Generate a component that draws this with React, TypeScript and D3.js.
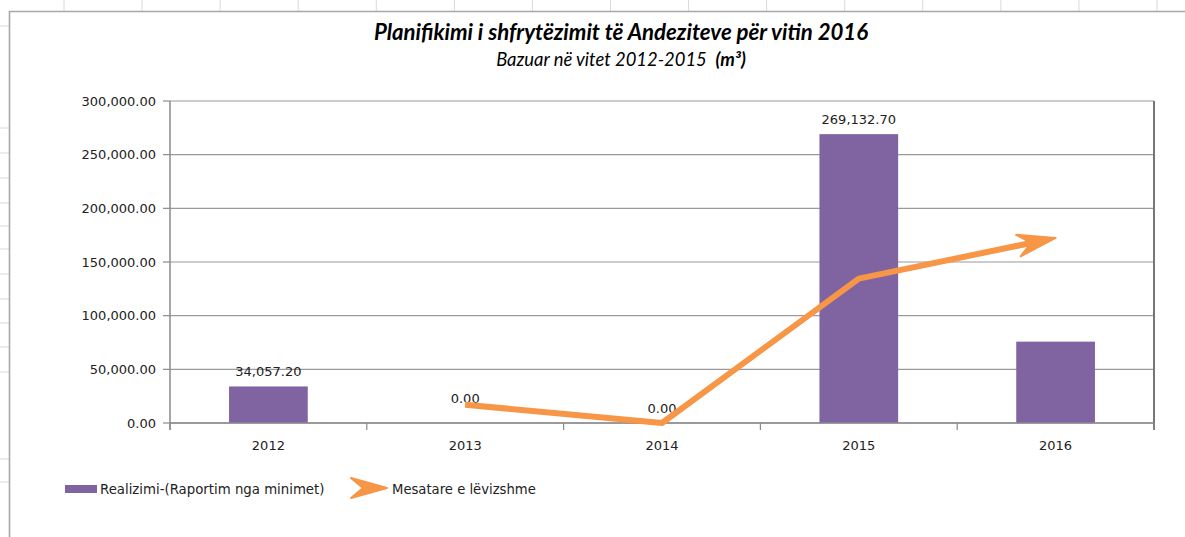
import * as d3 from 'd3'

const years = ['2012', '2013', '2014', '2015', '2016']
const realizimi = [34057.2, 0, 0, 269132.7, 75797.48]
const mesatare: (number | null)[] = [null, 17028.6, 0, 134566.35, 172465.09]
const showBarLabel = [true, true, true, true, false]
const yTicks = [0, 50000, 100000, 150000, 200000, 250000, 300000]

// spreadsheet row lines peeking out at the left edge
const sheetRows = [26, 128, 153, 178, 203, 226, 249, 274, 299, 323, 347, 372, 459, 482]

const W = 1185
const H = 537
const plot = { left: 170, right: 1154, top: 101, bottom: 423 }
const purple = '#8064A2'
const orange = '#F79646'
const gridColor = '#9a9a9a'
const axisFont = '"DejaVu Sans", Verdana, sans-serif'
const titleFont = 'Lato, "Open Sans", sans-serif'

const fmt = d3.format(',.2f')

function arrowHead(tip: [number, number], from: [number, number], len: number, half: number, notch: number) {
  const dx = tip[0] - from[0]
  const dy = tip[1] - from[1]
  const d = Math.hypot(dx, dy)
  const ux = dx / d
  const uy = dy / d
  const nx = -uy
  const ny = ux
  const bx = tip[0] - ux * len
  const by = tip[1] - uy * len
  const mx = tip[0] - ux * (len - notch)
  const my = tip[1] - uy * (len - notch)
  return {
    path: `M${tip[0]},${tip[1]}L${bx + nx * half},${by + ny * half}L${mx},${my}L${bx - nx * half},${by - ny * half}Z`,
    base: [mx + ux * 2, my + uy * 2] as [number, number],
  }
}

export default function App() {
  const x = d3.scaleBand<string>().domain(years).range([plot.left, plot.right]).padding(0)
  const y = d3.scaleLinear().domain([0, 300000]).range([plot.bottom, plot.top])
  const barW = x.bandwidth() * 0.4
  const cx = (yr: string) => x(yr)! + x.bandwidth() / 2

  const pts = years
    .map((yr, i) => ({ yr, v: mesatare[i] }))
    .filter((d) => d.v !== null)
    .map((d) => [cx(d.yr), y(d.v as number)] as [number, number])
  const tip = pts[pts.length - 1]
  const head = arrowHead(tip, pts[pts.length - 2], 38, 11, 13)
  const linePts = [...pts.slice(0, -1), head.base]
  const line = d3.line()(linePts)!

  const legendHead = arrowHead([387, 488], [347, 488], 36, 10, 12)

  return (
    <svg width={W} height={H} style={{ position: 'absolute', left: 0, top: 0, background: '#fff' }}>
      {/* spreadsheet grid behind the chart object */}
      {d3.range(0, 15).map((k) => (
        <line key={'c' + k} x1={64 + k * 78.07} x2={64 + k * 78.07} y1={0} y2={11} stroke="#dadada" />
      ))}
      {sheetRows.map((r) => (
        <line key={'r' + r} x1={0} x2={9} y1={r} y2={r} stroke="#dadada" />
      ))}
      <path d={`M9.5,${H}V11.5H${W}`} fill="none" stroke="#a8a8a8" strokeWidth={1.6} />

      {/* titles */}
      <text x={621} y={40} textAnchor="middle" fontFamily={titleFont} fontWeight="bold" fontStyle="italic" fontSize={22.2} fill="#000">
        Planifikimi i shfrytëzimit të Andeziteve për vitin 2016
      </text>
      <text x={621} y={66} textAnchor="middle" fontFamily={titleFont} fontStyle="italic" fontSize={18.4} fill="#000">
        Bazuar në vitet 2012-2015{'\u00a0\u00a0'}
        <tspan fontWeight="bold">(m³)</tspan>
      </text>

      {/* gridlines */}
      {yTicks.map((t) => (
        <line key={'g' + t} x1={plot.left} x2={plot.right} y1={y(t)} y2={y(t)} stroke={gridColor} strokeWidth={1.2} />
      ))}

      {/* y axis */}
      <line x1={plot.left} x2={plot.left} y1={plot.top} y2={plot.bottom + 7} stroke="#8a8a8a" strokeWidth={1.5} />
      {yTicks.map((t) => (
        <g key={'yt' + t}>
          <line x1={plot.left - 7} x2={plot.left} y1={y(t)} y2={y(t)} stroke="#8a8a8a" strokeWidth={1.2} />
          <text x={plot.left - 14} y={y(t)} dy="0.35em" textAnchor="end" fontFamily={axisFont} fontSize={13} fill="#222">
            {fmt(t)}
          </text>
        </g>
      ))}

      {/* right border of plot */}
      <line x1={plot.right} x2={plot.right} y1={plot.top} y2={plot.bottom + 7} stroke="#777" strokeWidth={2} />

      {/* bars */}
      {years.map((yr, i) => (
        <rect key={'b' + yr} x={cx(yr) - barW / 2} y={y(realizimi[i])} width={barW} height={plot.bottom - y(realizimi[i])} fill={purple} />
      ))}

      {/* x axis */}
      <line x1={plot.left} x2={plot.right} y1={plot.bottom} y2={plot.bottom} stroke="#8a8a8a" strokeWidth={1.5} />
      {[...years.map((yr) => x(yr)!), plot.right].map((bx, i) => (
        <line key={'xt' + i} x1={bx} x2={bx} y1={plot.bottom} y2={plot.bottom + 7} stroke="#8a8a8a" strokeWidth={1.2} />
      ))}
      {years.map((yr) => (
        <text key={'xl' + yr} x={cx(yr)} y={plot.bottom + 27} textAnchor="middle" fontFamily={axisFont} fontSize={13} fill="#222">
          {yr}
        </text>
      ))}

      {/* bar labels */}
      {years.map((yr, i) =>
        showBarLabel[i] ? (
          <text key={'bl' + yr} x={cx(yr)} y={y(realizimi[i]) - (yr === '2013' ? 20 : 10)} textAnchor="middle" fontFamily={axisFont} fontSize={13} fill="#222">
            {fmt(realizimi[i])}
          </text>
        ) : null
      )}

      {/* moving average with arrow */}
      <path d={line} fill="none" stroke={orange} strokeWidth={6} strokeLinejoin="round" />
      <path d={head.path} fill={orange} stroke={orange} strokeWidth={2} strokeLinejoin="round" />

      {/* legend */}
      <rect x={65} y={485} width={32} height={8} fill={purple} />
      <text x={100} y={489} dy="0.35em" fontFamily={axisFont} fontSize={13.3} fill="#222">
        Realizimi-(Raportim nga minimet)
      </text>
      <path d={legendHead.path} fill={orange} stroke={orange} strokeWidth={2} strokeLinejoin="round" />
      <text x={392} y={489} dy="0.35em" fontFamily={axisFont} fontSize={13.2} fill="#222">
        Mesatare e lëvizshme
      </text>
    </svg>
  )
}
